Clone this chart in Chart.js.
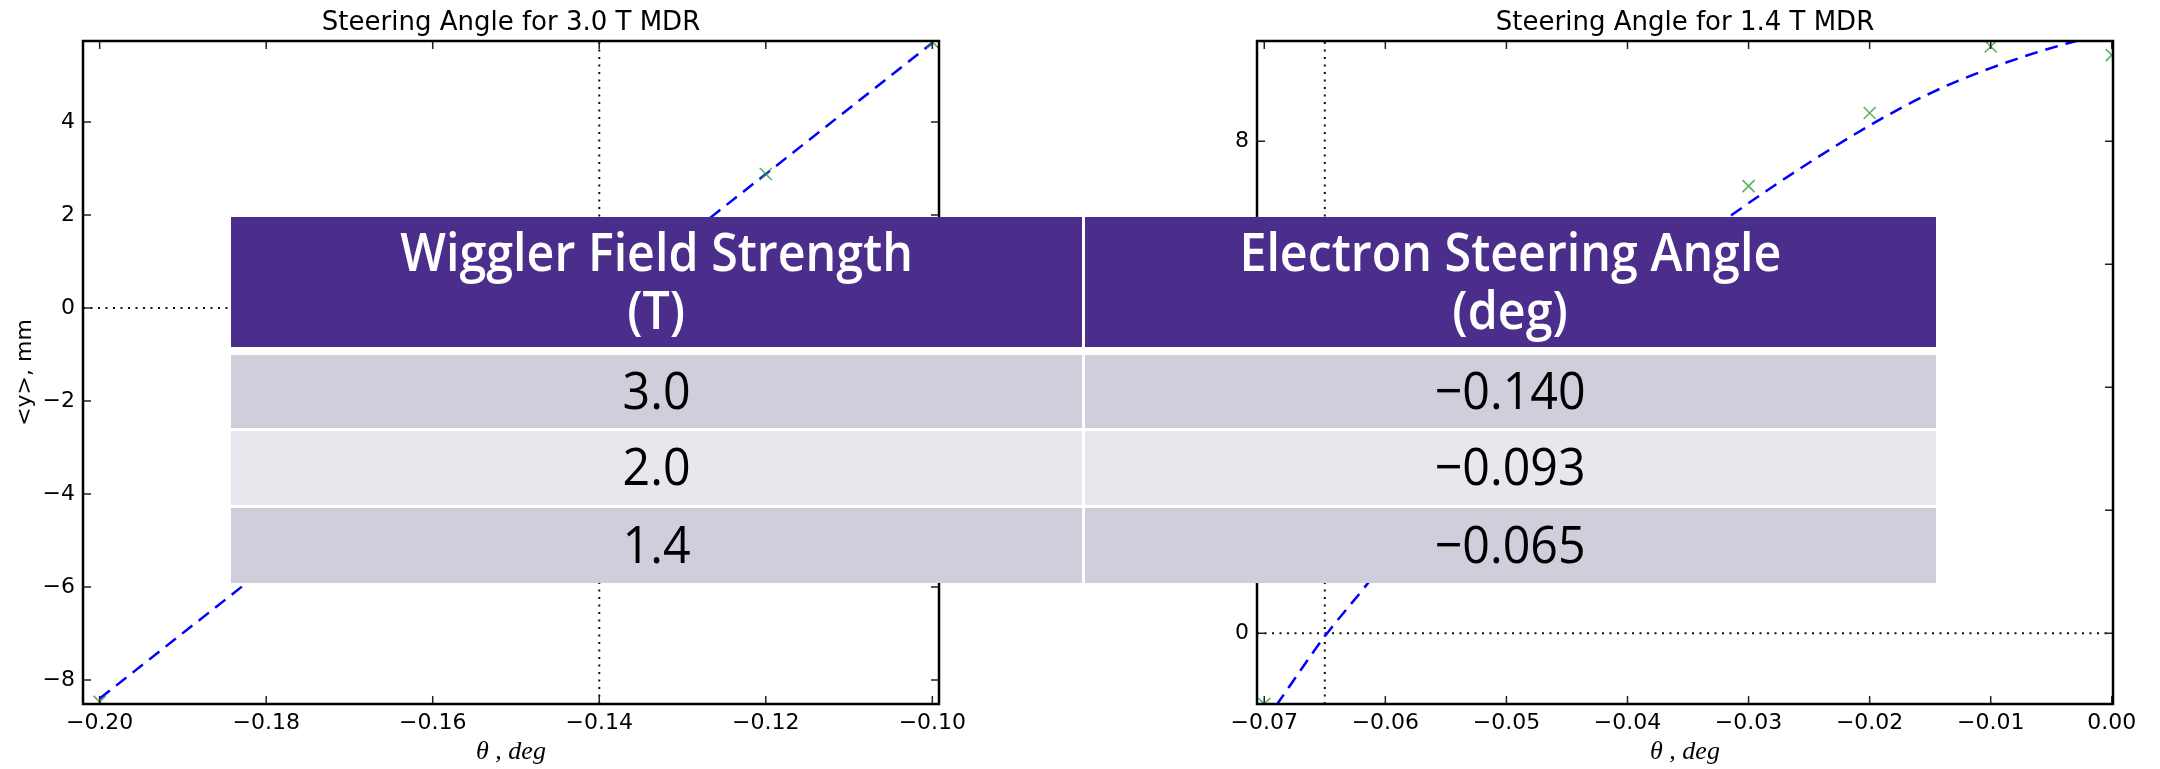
<!DOCTYPE html>
<html>
<head>
<meta charset="utf-8">
<script src="https://cdn.jsdelivr.net/npm/chart.js@4.4.1/dist/chart.umd.min.js"></script>
<style>
  html, body { margin: 0; padding: 0; background: #fff; }
  body { width: 2160px; height: 769px; position: relative; overflow: hidden; }
  #wrapA { position: absolute; left: 0; top: 0; width: 1000px; height: 769px; }
  #wrapB { position: absolute; left: 1080px; top: 0; width: 1080px; height: 769px; }
  #tbl {
    position: absolute; left: 231px; top: 217px; width: 1705px;
    display: grid; grid-template-columns: 1fr 1fr;
    grid-template-rows: 135px 73px 74px 75px;
    column-gap: 3px; row-gap: 3px; background: #fff;
  }
  .cell { display: flex; flex-direction: column; align-items: center; justify-content: center; }
  .head { background: #4b2e8b; color: #fff; height: 130px; align-self: start; padding-bottom: 4px; box-sizing: border-box;
          font: 600 52px/58px "Open Sans", sans-serif; }
  .dark { background: #cfcedb; }
  .light { background: #e8e7ee; }
  .body { font: 400 52px/1 "Open Sans", sans-serif; color: #000; padding-bottom: 6px; box-sizing: border-box; }
  .sq { display: inline-block; transform: scaleX(0.93); white-space: nowrap; }
  .body .sq { transform: scaleX(0.93); }
</style>
</head>
<body>
<div id="wrapA"><canvas id="chartA"></canvas></div>
<div id="wrapB"><canvas id="chartB"></canvas></div>
<div id="tbl"></div>
<script>
// 3.0 T MDR run
const thetaA = [-0.20, -0.18, -0.16, -0.14, -0.12, -0.10];
const yMeanA = [-8.47, -5.62, -2.80, 0.05, 2.88, 5.72];
const fitThetaA = [-0.20, -0.10];
const fitYA = [-8.40, 5.70];
const xRangeA = [-0.202, -0.0992];
const yRangeA = [-8.516, 5.74];
const xTicksA = [-0.20, -0.18, -0.16, -0.14, -0.12, -0.10];
const yTicksA = [-8, -6, -4, -2, 0, 2, 4];

// 1.4 T MDR run
const thetaB = [-0.07, -0.06, -0.05, -0.04, -0.03, -0.02, -0.01, 0.00];
const yMeanB = [-1.15, 1.95, 4.05, 5.75, 7.27, 8.46, 9.54, 9.40];
const fitThetaB = [-0.0690, -0.0650, -0.0617, -0.0550, -0.0470, -0.0390, -0.0314, -0.0250, -0.0197, -0.0150, -0.0100, -0.0037, 0.0000];
const fitYB = [-1.17, -0.05, 0.75, 2.45, 4.20, 5.68, 6.80, 7.65, 8.29, 8.78, 9.19, 9.59, 9.76];
const xRangeB = [-0.0706, 0.0001];
const yRangeB = [-1.15, 9.63];
const xTicksB = [-0.07, -0.06, -0.05, -0.04, -0.03, -0.02, -0.01, 0.00];
const yTicksB = [0, 2, 4, 6, 8];

// table
const fieldHead = ['Wiggler Field Strength', '(T)'];
const angleHead = ['Electron Steering Angle', '(deg)'];
const fieldT = ['3.0', '2.0', '1.4'];
const steerDeg = [-0.140, -0.093, -0.065];

Chart.defaults.font.family = '"DejaVu Sans", sans-serif';
Chart.defaults.color = '#000';

const minus = s => s.replace('-', '\u2212');
const pts = (xs, ys) => xs.map((x, i) => ({ x: x, y: ys[i] }));

// matplotlib style box: frame + inward ticks on all four sides
const frameTicks = {
  id: 'frameTicks',
  afterDatasetsDraw(chart) {
    const { ctx, chartArea: a, scales: { x, y } } = chart;
    ctx.save();
    ctx.strokeStyle = '#222';
    ctx.lineWidth = 1.5;
    ctx.beginPath();
    x.ticks.forEach(t => {
      const px = x.getPixelForValue(t.value);
      ctx.moveTo(px, a.bottom); ctx.lineTo(px, a.bottom - 8);
      ctx.moveTo(px, a.top); ctx.lineTo(px, a.top + 8);
    });
    y.ticks.forEach(t => {
      const py = y.getPixelForValue(t.value);
      ctx.moveTo(a.left, py); ctx.lineTo(a.left + 8, py);
      ctx.moveTo(a.right, py); ctx.lineTo(a.right - 8, py);
    });
    ctx.stroke();
    ctx.strokeStyle = '#000';
    ctx.lineWidth = 2.5;
    ctx.strokeRect(a.left, a.top, a.width, a.height);
    ctx.restore();
  }
};

function makeChart(id, o) {
  const dotted = { showLine: true, pointRadius: 0, borderColor: '#111', borderWidth: 2, borderDash: [2, 5.5] };
  return new Chart(document.getElementById(id), {
    type: 'scatter',
    data: {
      datasets: [
        { data: pts(o.theta, o.ymean), pointStyle: 'crossRot', pointRadius: 8.5, pointBorderWidth: 1.6,
          borderColor: 'rgba(40,150,40,0.75)', backgroundColor: 'rgba(40,150,40,0.75)' },
        { data: pts(o.fitX, o.fitY), showLine: true, pointRadius: 0, borderColor: '#0000ff',
          borderWidth: 2.5, borderDash: [13, 8], cubicInterpolationMode: 'monotone' },
        Object.assign({ data: [{ x: o.steer, y: o.yr[0] }, { x: o.steer, y: o.yr[1] }] }, dotted),
        Object.assign({ data: [{ x: o.xr[0], y: 0 }, { x: o.xr[1], y: 0 }] }, dotted)
      ]
    },
    options: {
      responsive: true, maintainAspectRatio: false, animation: false,
      layout: { padding: { left: 0, right: o.padRight, top: 0, bottom: 0 } },
      plugins: {
        legend: { display: false }, tooltip: { enabled: false },
        title: { display: true, fullSize: false, text: o.title, color: '#000',
                 font: { size: 26, weight: 'normal' }, padding: { top: 7.5, bottom: 2.3 } }
      },
      scales: {
        x: {
          type: 'linear', min: o.xr[0], max: o.xr[1],
          grid: { display: false, drawTicks: false }, border: { display: false },
          ticks: { font: { size: 22 }, padding: 6, maxRotation: 0, callback: v => minus(v.toFixed(2)) },
          afterBuildTicks: s => { s.ticks = o.xt.map(v => ({ value: v })); },
          afterFit: s => { s.height = 65; s.paddingLeft = 0; s.paddingRight = 0; },
          title: { display: true, text: '\u03b8 , deg', color: '#000', padding: { top: 0, bottom: 1 },
                   font: { family: '"Liberation Serif", serif', style: 'italic', size: 26 } }
        },
        y: {
          type: 'linear', min: o.yr[0], max: o.yr[1],
          grid: { display: false, drawTicks: false }, border: { display: false },
          ticks: { font: { size: 22 }, padding: 8, callback: v => minus(String(v)) },
          afterBuildTicks: s => { s.ticks = o.yt.map(v => ({ value: v })); },
          afterFit: s => { s.width = o.axisW; s.paddingTop = 0; s.paddingBottom = 0; },
          title: { display: true, text: '<y>, mm', color: '#000', padding: { top: o.yTitlePad, bottom: 0 },
                   font: { size: 22 } }
        }
      }
    },
    plugins: [frameTicks]
  });
}

makeChart('chartA', {
  title: 'Steering Angle for 3.0 T MDR', theta: thetaA, ymean: yMeanA, fitX: fitThetaA, fitY: fitYA,
  xr: xRangeA, yr: yRangeA, xt: xTicksA, yt: yTicksA, steer: steerDeg[0],
  padRight: 61, axisW: 83, yTitlePad: 12
});
makeChart('chartB', {
  title: 'Steering Angle for 1.4 T MDR', theta: thetaB, ymean: yMeanB, fitX: fitThetaB, fitY: fitYB,
  xr: xRangeB, yr: yRangeB, xt: xTicksB, yt: yTicksB, steer: steerDeg[2],
  padRight: 47, axisW: 177, yTitlePad: 106
});

// table over the plots
const tbl = document.getElementById('tbl');
function addCell(cls, lines) {
  const d = document.createElement('div');
  d.className = 'cell ' + cls;
  lines.forEach(t => {
    const s = document.createElement('span');
    s.className = 'sq';
    s.textContent = t;
    d.appendChild(s);
  });
  tbl.appendChild(d);
}
addCell('head', fieldHead);
addCell('head', angleHead);
fieldT.forEach((f, i) => {
  const shade = i % 2 === 0 ? 'dark' : 'light';
  addCell('body ' + shade, [f]);
  addCell('body ' + shade, [minus(steerDeg[i].toFixed(3))]);
});
</script>
</body>
</html>
